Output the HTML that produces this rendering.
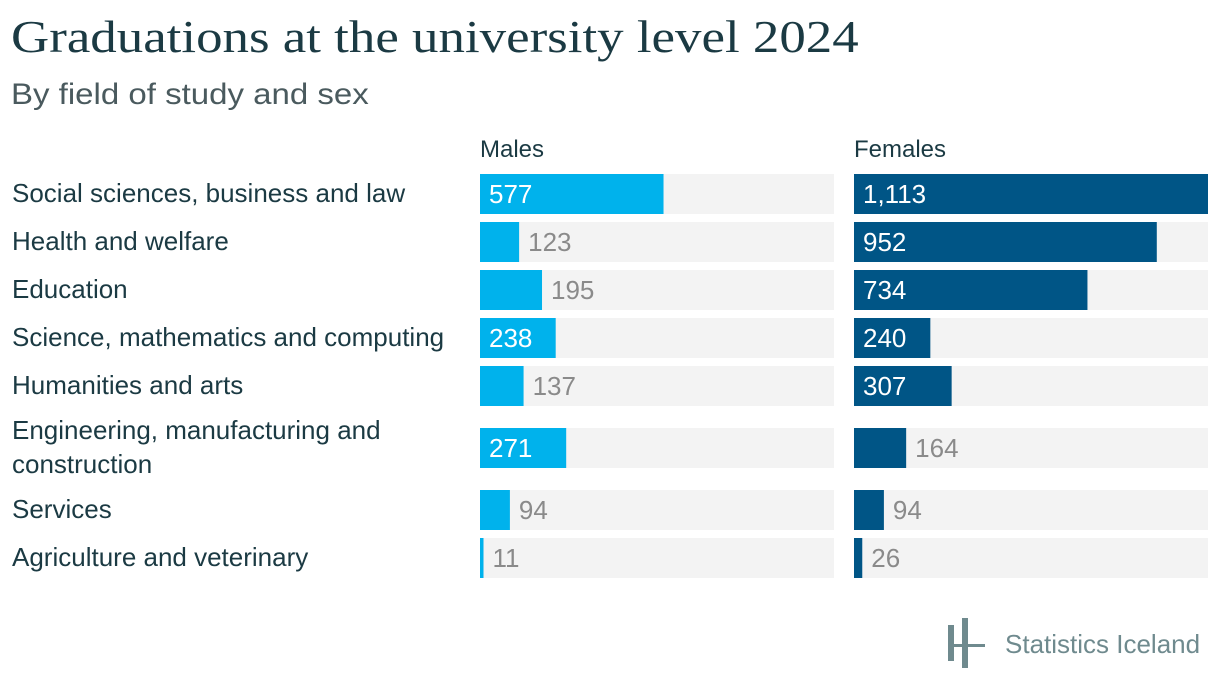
<!DOCTYPE html>
<html><head><meta charset="utf-8"><style>
body{margin:0;width:1220px;height:694px;background:#fff;overflow:hidden;font-family:"Liberation Sans",sans-serif;}
#title{position:absolute;left:11px;top:10px;font-family:"Liberation Serif",serif;font-size:46px;color:#1b3a43;margin:0;font-weight:normal;white-space:nowrap;transform-origin:0 0;transform:scaleX(1.15)}
#sub{position:absolute;left:11px;top:78px;font-size:30px;color:#4a5a5e;font-weight:300;white-space:nowrap;transform-origin:0 0;transform:scaleX(1.1)}
</style></head><body>
<div id="title">Graduations at the university level 2024</div>
<div id="sub">By field of study and sex</div>
<svg id="chart" width="1220" height="694" style="position:absolute;left:0;top:0">
<g>
<rect x="948" y="625" width="6" height="36" fill="#6f8a8e"/>
<rect x="962" y="618" width="6" height="50" fill="#6f8a8e"/>
<rect x="948" y="644" width="37" height="3" fill="#6f8a8e"/>
<text x="1005" y="653" font-size="26" fill="#6f8a8e" font-family="Liberation Sans, sans-serif">Statistics Iceland</text>
</g>
</svg>
<script>
const categories=["Social sciences, business and law","Health and welfare","Education","Science, mathematics and computing","Humanities and arts","Engineering, manufacturing and|construction","Services","Agriculture and veterinary"];
const males=[577,123,195,238,137,271,94,11];
const females=[1113,952,734,240,307,164,94,26];
const maxVal=1113;
const svg=document.getElementById('chart');
const NS='http://www.w3.org/2000/svg';
const rowTops=[174,222,270,318,366,428,490,538];
const panelW=354,barH=40;
function xs(v){return v/maxVal*panelW;}
function mk(t,a){const e=document.createElementNS(NS,t);for(const k in a)e.setAttribute(k,a[k]);svg.appendChild(e);return e;}
[["Males",480],["Females",854]].forEach(([n,x])=>{const t=mk('text',{x:x,y:157,'font-size':24,fill:'#1b3a43','font-family':'Liberation Sans, sans-serif'});t.textContent=n;

});
categories.forEach((c,i)=>{
 const y=rowTops[i];
 const lines=c.split('|');
 lines.forEach((l,j)=>{const t=mk('text',{x:12,y:y+28+(lines.length>1?(j*34-17):0),'font-size':26,fill:'#1b3a43','font-family':'Liberation Sans, sans-serif'});t.textContent=l;
 
 });
 [[males,480,'#00b2ec','male'],[females,854,'#005586','female']].forEach(([arr,x0,col,nm])=>{
  const bg=mk('rect',{x:x0,y:y,width:panelW,height:barH,fill:'#f3f3f3'});
  
  
  const w=Math.max(2,xs(arr[i]));
  const b=mk('rect',{x:x0,y:y,width:w,height:barH,fill:col});
  
  
  const inside=w>70;
  const t=mk('text',{x:inside?x0+9:x0+w+9,y:y+29,'font-size':26,fill:inside?'#fff':'#8a8a8a','font-family':'Liberation Sans, sans-serif'});
  t.textContent=arr[i].toLocaleString('en-US');
  
  
 });
});
</script>
</body></html>
